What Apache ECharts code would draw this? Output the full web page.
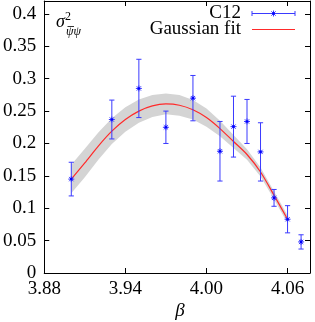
<!DOCTYPE html>
<html><head><meta charset="utf-8">
<script src="https://cdn.jsdelivr.net/npm/echarts@6/dist/echarts.min.js"></script>
<style>html,body{margin:0;padding:0;background:#fff}#c{width:315px;height:322px}</style>
</head><body><div id="c"></div>
<script>
// data points (C12)
const betaPts   = [3.90, 3.93, 3.95, 3.97, 3.99, 4.01, 4.02, 4.03, 4.04, 4.05, 4.06, 4.07];
const sigmaVals = [0.145, 0.237, 0.285, 0.225, 0.270, 0.188, 0.226, 0.234, 0.187, 0.116, 0.083, 0.048];
const sigmaErrs = [0.026, 0.030, 0.045, 0.025, 0.035, 0.046, 0.047, 0.034, 0.045, 0.013, 0.021, 0.011];
// Gaussian fit curve and its error band
const fitBeta  = [3.90, 3.91, 3.92, 3.93, 3.94, 3.95, 3.96, 3.97, 3.98, 3.99, 4.00, 4.01, 4.02, 4.03, 4.04, 4.05, 4.06];
const fitVals  = [0.145, 0.170, 0.196, 0.219, 0.237, 0.250, 0.258, 0.261, 0.259, 0.252, 0.240, 0.223, 0.203, 0.183, 0.156, 0.120, 0.083];
const bandLow  = [0.123, 0.148, 0.175, 0.199, 0.218, 0.232, 0.241, 0.245, 0.243, 0.237, 0.226, 0.211, 0.193, 0.175, 0.149, 0.114, 0.077];
const bandHigh = [0.167, 0.192, 0.217, 0.239, 0.256, 0.268, 0.275, 0.277, 0.275, 0.267, 0.254, 0.235, 0.213, 0.191, 0.163, 0.126, 0.089];
// ticks
const xTicks = [3.88, 3.94, 4.00, 4.06];
const yTicks = [0, 0.05, 0.1, 0.15, 0.2, 0.25, 0.3, 0.35, 0.4];
const seriesNames = ['C12', 'Gaussian fit'];

const FONT = '"Liberation Serif", "Times New Roman", serif';
const BLUE = '#3a3aff';
const chart = echarts.init(document.getElementById('c'), null, {renderer: 'canvas'});

const pts = betaPts.map((b, i) => [b, sigmaVals[i], sigmaErrs[i]]);
const bandData = fitBeta.map((b, i) => [b, bandLow[i], bandHigh[i]]);
const fitData = fitBeta.map((b, i) => [b, fitVals[i]]);

function star(cx, cy, r, color) {
  const d = r * 0.72;
  return [
    {type: 'line', shape: {x1: cx - r, y1: cy, x2: cx + r, y2: cy}, style: {stroke: color, lineWidth: 1}},
    {type: 'line', shape: {x1: cx, y1: cy - r, x2: cx, y2: cy + r}, style: {stroke: color, lineWidth: 1}},
    {type: 'line', shape: {x1: cx - d, y1: cy - d, x2: cx + d, y2: cy + d}, style: {stroke: color, lineWidth: 1}},
    {type: 'line', shape: {x1: cx - d, y1: cy + d, x2: cx + d, y2: cy - d}, style: {stroke: color, lineWidth: 1}},
    {type: 'circle', shape: {cx: cx, cy: cy, r: 1.3}, style: {fill: '#0000ff'}}
  ];
}

const axisCommon = {
  axisLine: {show: true, onZero: false, lineStyle: {color: '#000', width: 1}},
  splitLine: {show: false}
};

chart.setOption({
  animation: false,
  backgroundColor: '#fff',
  grid: {left: 42, right: 5, top: 1, bottom: 49, containLabel: false},
  xAxis: [
    Object.assign({type: 'value', position: 'bottom', min: 3.88, max: 4.0766,
      axisTick: {show: true, inside: true, length: 5, lineStyle: {color: '#000'}, customValues: xTicks},
      axisLabel: {show: true, customValues: xTicks, margin: 7, color: '#000', fontFamily: FONT, fontSize: 19,
        formatter: v => v.toFixed(2)}
    }, axisCommon),
    Object.assign({type: 'value', position: 'top', min: 3.88, max: 4.0766,
      axisTick: {show: true, inside: true, length: 5, lineStyle: {color: '#000'}, customValues: xTicks},
      axisLabel: {show: false}
    }, axisCommon)
  ],
  yAxis: [
    Object.assign({type: 'value', position: 'left', min: 0, max: 0.42,
      axisTick: {show: true, inside: true, length: 5, lineStyle: {color: '#000'}, customValues: yTicks},
      axisLabel: {show: true, customValues: yTicks, margin: 8, color: '#000', fontFamily: FONT, fontSize: 19,
        formatter: v => String(+v.toFixed(2))}
    }, axisCommon),
    Object.assign({type: 'value', position: 'right', min: 0, max: 0.42,
      axisTick: {show: true, inside: true, length: 5, lineStyle: {color: '#000'}, customValues: yTicks},
      axisLabel: {show: false}
    }, axisCommon)
  ],
  series: [
    {type: 'custom', data: bandData, silent: true, z: 1,
      renderItem: function (params, api) {
        if (params.dataIndex !== 0) return null;
        const upper = bandData.map(d => api.coord([d[0], d[2]]));
        const lower = bandData.map(d => api.coord([d[0], d[1]])).reverse();
        return {type: 'polygon', shape: {points: upper.concat(lower)},
          style: {fill: '#d4d4d4', stroke: null}};
      }
    },
    {type: 'line', name: seriesNames[1], data: fitData, smooth: 0.3, symbol: 'none',
      lineStyle: {color: '#ff2a2a', width: 1.2}, z: 3},
    {type: 'custom', name: seriesNames[0], data: pts, z: 4,
      renderItem: function (params, api) {
        const x = api.value(0), y = api.value(1), e = api.value(2);
        const p = api.coord([x, y]);
        const hi = api.coord([x, y + e]);
        const lo = api.coord([x, y - e]);
        const cw = 2.6;
        const s = {stroke: BLUE, lineWidth: 1};
        return {type: 'group', children: [
          {type: 'line', shape: {x1: p[0], y1: hi[1], x2: p[0], y2: lo[1]}, style: s},
          {type: 'line', shape: {x1: p[0] - cw, y1: hi[1], x2: p[0] + cw, y2: hi[1]}, style: s},
          {type: 'line', shape: {x1: p[0] - cw, y1: lo[1], x2: p[0] + cw, y2: lo[1]}, style: s}
        ].concat(star(p[0], p[1], 3, BLUE))};
      }
    }
  ],
  graphic: [
    // y label sigma^2_{psibar psi}
    {type: 'text', left: 56, top: 13, style: {text: 'σ', font: 'italic 18px ' + FONT, fill: '#000'}},
    {type: 'text', left: 65, top: 11, style: {text: '2', font: '12px ' + FONT, fill: '#000'}},
    {type: 'text', left: 66, top: 26, style: {text: 'ψψ', font: 'italic 12px ' + FONT, fill: '#000'}},
    {type: 'line', shape: {x1: 67.5, y1: 26.5, x2: 74, y2: 26.5}, style: {stroke: '#000', lineWidth: 0.8}},
    // legend
    {type: 'text', x: 241, y: 13, style: {text: seriesNames[0], align: 'right', verticalAlign: 'middle', font: '19px ' + FONT, fill: '#000'}},
    {type: 'text', x: 241, y: 29, style: {text: seriesNames[1], align: 'right', verticalAlign: 'middle', font: '19px ' + FONT, fill: '#000'}},
    {type: 'group', children: [
      {type: 'line', shape: {x1: 252, y1: 13.5, x2: 295, y2: 13.5}, style: {stroke: BLUE, lineWidth: 1}},
      {type: 'line', shape: {x1: 252, y1: 11, x2: 252, y2: 16}, style: {stroke: BLUE, lineWidth: 1}},
      {type: 'line', shape: {x1: 295, y1: 11, x2: 295, y2: 16}, style: {stroke: BLUE, lineWidth: 1}}
    ].concat(star(273.5, 13.5, 3, BLUE))},
    {type: 'line', shape: {x1: 252, y1: 29.5, x2: 295, y2: 29.5}, style: {stroke: '#ff2a2a', lineWidth: 1.2}},
    // x axis title
    {type: 'text', x: 180, y: 311, style: {text: 'β', align: 'center', verticalAlign: 'middle', font: 'italic 19px ' + FONT, fill: '#000'}}
  ]
});
</script>
</body></html>
